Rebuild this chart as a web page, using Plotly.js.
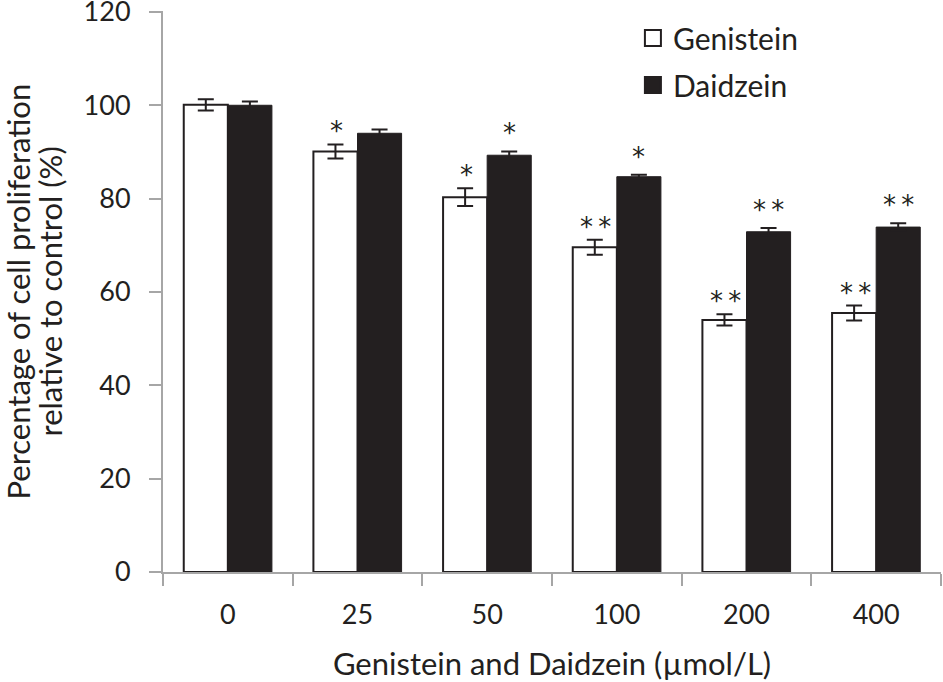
<!DOCTYPE html>
<html>
<head>
<meta charset="utf-8">
<script src="https://cdn.plot.ly/plotly-3.0.1.min.js"></script>
<style>
  html, body { margin: 0; padding: 0; background: #fff; }
  #chart { width: 943px; height: 682px; }
</style>
</head>
<body>
<div id="chart"></div>
<script>
// doses (µmol/L)
var doses = ['0', '25', '50', '100', '200', '400'];

// % proliferation relative to control
var genistein = [100.1, 90.1, 80.3, 69.6, 54.0, 55.5];
var genisteinErr = [1.2, 1.5, 1.9, 1.6, 1.2, 1.6];
var genisteinSig = ['', '*', '*', '**', '**', '**'];

var daidzein = [100.0, 94.0, 89.3, 84.7, 72.9, 73.9];
var daidzeinErr = [0.8, 0.8, 0.8, 0.4, 0.8, 0.8];
var daidzeinSig = ['', '', '*', '*', '**', '**'];

var ink = '#231f20';
var axisGrey = '#a6a6a6';
var font = 'Lato, "Open Sans", sans-serif';

var traces = [
  {
    type: 'bar', name: 'Genistein', x: doses, y: genistein, showlegend: false,
    marker: { color: '#ffffff', line: { color: ink, width: 2 } },
    error_y: { type: 'data', array: genisteinErr, visible: true, color: ink, thickness: 2, width: 8 }
  },
  {
    type: 'bar', name: 'Daidzein', x: doses, y: daidzein, showlegend: false,
    marker: { color: ink, line: { color: ink, width: 1 } },
    error_y: { type: 'data', array: daidzeinErr, visible: true, color: ink, thickness: 2, width: 8 }
  },
  // legend-only entries so the squares can be drawn larger
  {
    type: 'scatter', mode: 'markers', name: 'Genistein', x: [null], y: [null], legendgroup: 'g',
    marker: { symbol: 'square', size: 16, color: '#ffffff', line: { color: ink, width: 2 } }
  },
  {
    type: 'scatter', mode: 'markers', name: 'Daidzein', x: [null], y: [null], legendgroup: 'd',
    marker: { symbol: 'square', size: 16, color: ink, line: { color: ink, width: 2 } }
  }
];

var annotations = [];
// significance stars above each bar (x = category index)
function addStars(vals, errs, sig, shift, lift) {
  for (var i = 0; i < doses.length; i++) {
    if (!sig[i]) continue;
    annotations.push({
      x: i, y: vals[i] + errs[i], xref: 'x', yref: 'y',
      text: sig[i].split('').join('\u2009'), showarrow: false,
      xshift: shift, yanchor: 'middle', yshift: lift,
      font: { family: '"DejaVu Sans", sans-serif', size: 26, color: ink }
    });
  }
}
addStars(genistein, genisteinErr, genisteinSig, -21, 13);
addStars(daidzein, daidzeinErr, daidzeinSig, 22, 18);

// two-line y title, tighter line spacing than an axis title allows
var yTitle = ['Percentage of cell proliferation', 'relative to control (%)'];
var yTitleShift = [-146, -114];
yTitle.forEach(function (t, k) {
  annotations.push({
    xref: 'paper', yref: 'paper', x: 0, y: 0.5, xshift: yTitleShift[k],
    text: t, textangle: -90, showarrow: false, xanchor: 'center', yanchor: 'middle',
    font: { family: font, size: 31, color: ink }
  });
});

var layout = {
  width: 943, height: 682,
  margin: { l: 163, r: 2, t: 11, b: 110 },
  paper_bgcolor: '#fff', plot_bgcolor: '#fff',
  font: { family: font, size: 26, color: ink },
  barmode: 'group', bargap: 0.32, bargroupgap: 0,
  showlegend: true,
  legend: {
    x: 0.604, y: 0.998, xanchor: 'left', yanchor: 'top',
    traceorder: 'grouped', tracegroupgap: 5,
    font: { family: font, size: 30, color: ink },
    bgcolor: 'rgba(0,0,0,0)'
  },
  xaxis: {
    type: 'category', range: [-0.5, 5.5], autorange: false,
    tickson: 'boundaries', ticks: 'outside', ticklen: 12,
    tickcolor: axisGrey, tickwidth: 2, ticklabelstandoff: 18,
    showline: true, linecolor: axisGrey, linewidth: 2,
    showgrid: false, zeroline: false, fixedrange: true,
    tickfont: { family: font, size: 27, color: ink },
    title: { text: 'Genistein and Daidzein (µmol/L)', standoff: 25, font: { family: font, size: 31, color: ink } },
    automargin: false
  },
  yaxis: {
    range: [0, 120.2], autorange: false, tick0: 0, dtick: 20, ticks: 'outside', ticklen: 12,
    tickcolor: axisGrey, tickwidth: 2, ticklabelstandoff: 13, ticklabeloverflow: 'allow',
    showline: true, linecolor: axisGrey, linewidth: 2,
    showgrid: false, zeroline: false, fixedrange: true,
    tickfont: { family: font, size: 27, color: ink },
    automargin: false
  },
  annotations: annotations
};

Plotly.newPlot('chart', traces, layout, { displayModeBar: false, staticPlot: true });
</script>
</body>
</html>
